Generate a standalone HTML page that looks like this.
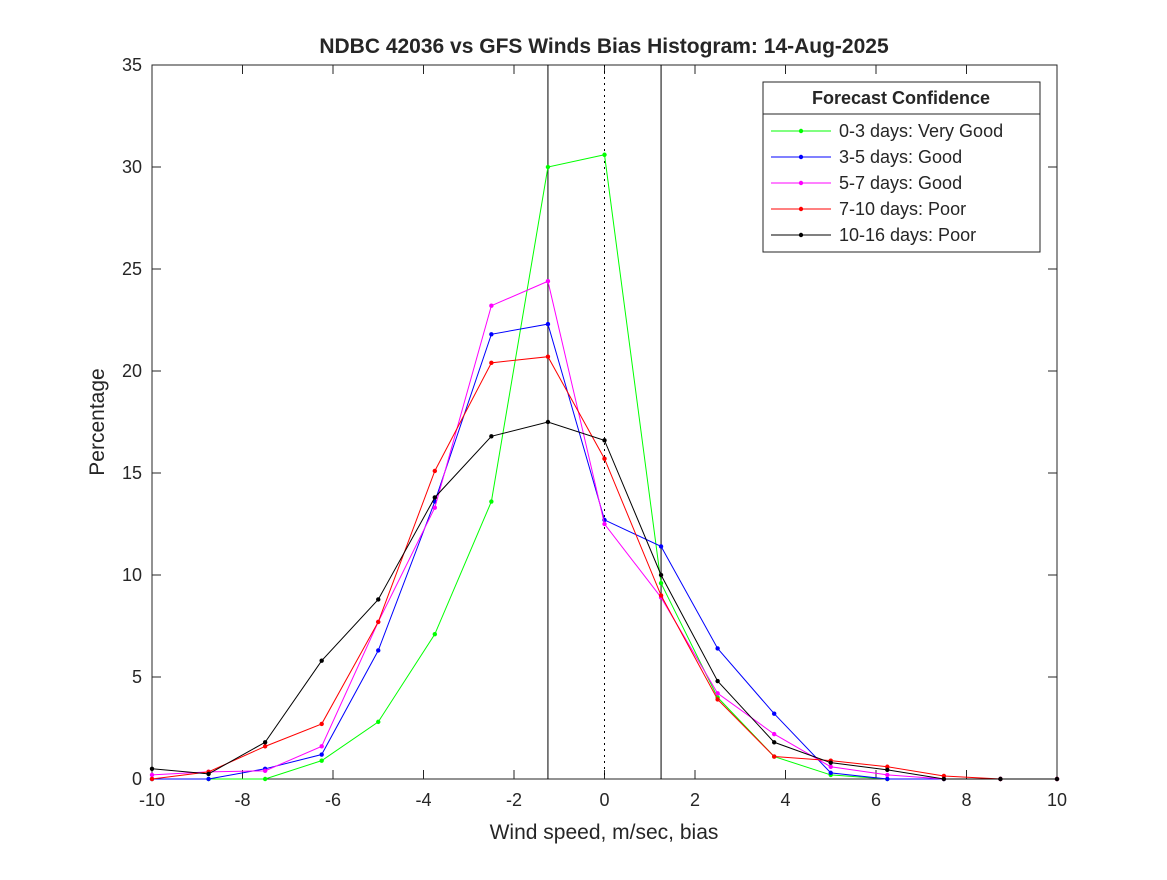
<!DOCTYPE html>
<html><head><meta charset="utf-8"><style>
body{margin:0;background:#fff;}
svg text{font-family:"Liberation Sans","DejaVu Sans",sans-serif;fill:#262626;}
</style></head><body>
<svg id="chart" width="1167" height="875" xmlns="http://www.w3.org/2000/svg">
<rect width="1167" height="875" fill="#fff"/>
<text x="604" y="53" text-anchor="middle" font-size="21" font-weight="bold" fill="#000">NDBC 42036 vs GFS Winds Bias Histogram: 14-Aug-2025</text>
<rect x="152" y="65" width="905" height="714" fill="#fff" stroke="#262626" stroke-width="1"/>
<g id="ticks"></g>
<g id="vlines"></g>
<g id="series"></g>
<text x="604" y="839" text-anchor="middle" font-size="21">Wind speed, m/sec, bias</text>
<text transform="translate(104,422) rotate(-90)" text-anchor="middle" font-size="21">Percentage</text>
<g>
<rect x="763" y="82" width="277" height="170" fill="#fff" stroke="#262626"/>
<line x1="763" y1="114" x2="1040" y2="114" stroke="#262626"/>
<text x="901" y="104" text-anchor="middle" font-size="18" font-weight="bold" fill="#000">Forecast Confidence</text>
<g id="legend-entries"></g>
</g>
</svg>
<script>
const xs=[-10,-8.75,-7.5,-6.25,-5,-3.75,-2.5,-1.25,0,1.25,2.5,3.75,5,6.25,7.5,8.75,10];
const green=[0,0,0,0.9,2.8,7.1,13.6,30,30.6,9.6,4.0,1.1,0.2,0,0,0,0];
const blue=[0,0,0.5,1.2,6.3,13.6,21.8,22.3,12.7,11.4,6.4,3.2,0.3,0,0,0,0];
const magenta=[0.2,0.35,0.4,1.6,7.7,13.3,23.2,24.4,12.5,8.9,4.2,2.2,0.6,0.2,0,0,0];
const red=[0,0.35,1.6,2.7,7.7,15.1,20.4,20.7,15.7,9.0,3.9,1.1,0.9,0.6,0.15,0,0];
const black=[0.5,0.25,1.8,5.8,8.8,13.8,16.8,17.5,16.6,10.0,4.8,1.8,0.8,0.45,0,0,0];
const labels=["0-3 days: Very Good","3-5 days: Good","5-7 days: Good","7-10 days: Poor","10-16 days: Poor"];
const xTicks=[-10,-8,-6,-4,-2,0,2,4,6,8,10];
const yTicks=[0,5,10,15,20,25,30,35];
const NS="http://www.w3.org/2000/svg";
const X=v=>152+(v+10)/20*905, Y=v=>779-v/35*714;
function mk(t,a,p){const e=document.createElementNS(NS,t);for(const k in a)e.setAttribute(k,a[k]);p.appendChild(e);return e;}
const tg=document.getElementById('ticks');
xTicks.forEach(v=>{
 mk('line',{x1:X(v),x2:X(v),y1:779,y2:770,stroke:'#262626'},tg);
 mk('line',{x1:X(v),x2:X(v),y1:65,y2:74,stroke:'#262626'},tg);
 const t=mk('text',{x:X(v),y:806,'text-anchor':'middle','font-size':18},tg);
 
 
 t.textContent=v;
});
yTicks.forEach(v=>{
 mk('line',{x1:152,x2:161,y1:Y(v),y2:Y(v),stroke:'#262626'},tg);
 mk('line',{x1:1057,x2:1048,y1:Y(v),y2:Y(v),stroke:'#262626'},tg);
 const t=mk('text',{x:142,y:Y(v)+6,'text-anchor':'end','font-size':18},tg);
 
 
 t.textContent=v;
});
const vg=document.getElementById('vlines');
[[-1.25,''],[0,'2,4'],[1.25,'']].forEach(([v,d])=>{
 const l=mk('line',{x1:X(v),x2:X(v),y1:65,y2:779,stroke:'#000','stroke-dasharray':d},vg);
 
 
});
const sg=document.getElementById('series');
const series=[[green,'#00ff00'],[blue,'#0000ff'],[magenta,'#ff00ff'],[red,'#ff0000'],[black,'#000000']];
const lg=document.getElementById('legend-entries');
series.forEach(([d,c],i)=>{
 const g=mk('g',{},sg);
 
 
 mk('polyline',{points:d.map((v,j)=>X(xs[j])+','+Y(v)).join(' '),fill:'none',stroke:c,'stroke-width':1},g);
 d.forEach((v,j)=>{const p=mk('circle',{cx:X(xs[j]),cy:Y(v),r:2.2,fill:c},g);
  
  });
 const ly=131+i*26;
 const e=mk('g',{},lg);
 
 
 mk('line',{x1:771,x2:831,y1:ly,y2:ly,stroke:c},e);
 mk('circle',{cx:801,cy:ly,r:2.2,fill:c},e);
 const t=mk('text',{x:839,y:ly+6,'font-size':18},e);
 t.textContent=labels[i];
});
</script>
</body></html>
